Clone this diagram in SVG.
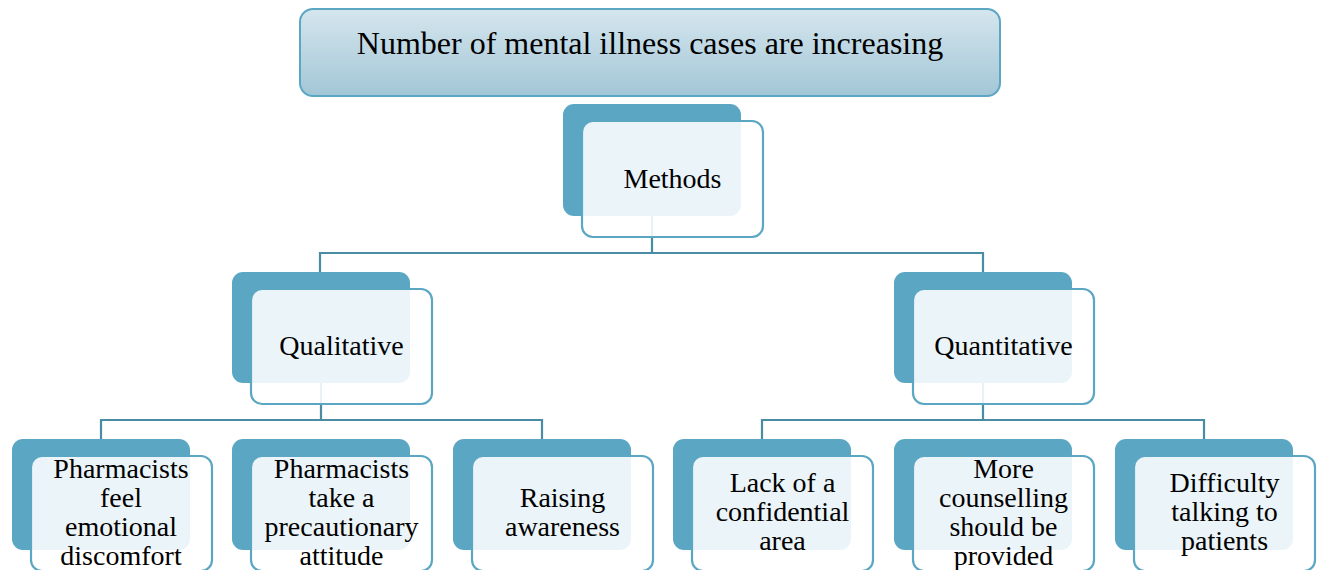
<svg xmlns="http://www.w3.org/2000/svg" width="1320" height="570" viewBox="0 0 1320 570">
<defs>
<linearGradient id="topg" x1="0" y1="0" x2="0" y2="1">
<stop offset="0" stop-color="#d5e6ee"/>
<stop offset="1" stop-color="#a2c6d6"/>
</linearGradient>
</defs>
<style>
.back{fill:#5ba7c3;}
.front{fill:#ffffff;fill-opacity:0.88;stroke:#5ba7c3;stroke-width:2.2;}
.conn{fill:none;stroke:#4a8ca3;stroke-width:2.2;}
.t{font-size:28px;fill:#000000;text-anchor:middle;}
</style>
<rect width="1320" height="570" fill="#ffffff"/>
<g id="connectors">
<path class="conn" d="M652,216 V253 M320,272 V253 H983 V272"/>
<path class="conn" d="M321,383 V420 M101,439 V420 H542 V439"/>
<path class="conn" d="M983,383 V420 M762,439 V420 H1204 V439"/>
</g>
<g font-family="Liberation Serif, Times New Roman, DejaVu Serif, serif">
<g id="top">
<rect x="300" y="9" width="700" height="87" rx="13" fill="url(#topg)" stroke="#5ba7c3" stroke-width="2"/>
<text class="t" x="650" y="54" style="font-size:32px">Number of mental illness cases are increasing</text>
</g>
<g id="methods">
<rect class="back" x="563" y="104" width="178" height="112" rx="11"/>
<rect class="front" x="582" y="121" width="181" height="116" rx="11"/>
<text class="t" x="672.5" y="188">Methods</text>
</g>
<g id="qualitative">
<rect class="back" x="232" y="272" width="178" height="111" rx="11"/>
<rect class="front" x="251" y="289" width="181" height="115" rx="11"/>
<text class="t" x="341.5" y="355">Qualitative</text>
</g>
<g id="quantitative">
<rect class="back" x="894" y="272" width="178" height="111" rx="11"/>
<rect class="front" x="913" y="289" width="181" height="115" rx="11"/>
<text class="t" x="1003.5" y="355">Quantitative</text>
</g>
<g id="leaf1">
<rect class="back" x="12" y="439" width="178" height="111" rx="11"/>
<rect class="front" x="31" y="456" width="181" height="115" rx="11"/>
<text class="t" x="121" y="478">Pharmacists</text>
<text class="t" x="121" y="507">feel</text>
<text class="t" x="121" y="536">emotional</text>
<text class="t" x="121" y="565">discomfort</text>
</g>
<g id="leaf2">
<rect class="back" x="232" y="439" width="178" height="111" rx="11"/>
<rect class="front" x="251" y="456" width="181" height="115" rx="11"/>
<text class="t" x="341.5" y="478">Pharmacists</text>
<text class="t" x="341.5" y="507">take a</text>
<text class="t" x="341.5" y="536">precautionary</text>
<text class="t" x="341.5" y="565">attitude</text>
</g>
<g id="leaf3">
<rect class="back" x="453" y="439" width="178" height="111" rx="11"/>
<rect class="front" x="472" y="456" width="181" height="115" rx="11"/>
<text class="t" x="562.5" y="507">Raising</text>
<text class="t" x="562.5" y="536">awareness</text>
</g>
<g id="leaf4">
<rect class="back" x="673" y="439" width="178" height="111" rx="11"/>
<rect class="front" x="692" y="456" width="181" height="115" rx="11"/>
<text class="t" x="782.5" y="492">Lack of a</text>
<text class="t" x="782.5" y="521">confidential</text>
<text class="t" x="782.5" y="550">area</text>
</g>
<g id="leaf5">
<rect class="back" x="894" y="439" width="178" height="111" rx="11"/>
<rect class="front" x="913" y="456" width="181" height="115" rx="11"/>
<text class="t" x="1003.5" y="478">More</text>
<text class="t" x="1003.5" y="507">counselling</text>
<text class="t" x="1003.5" y="536">should be</text>
<text class="t" x="1003.5" y="565">provided</text>
</g>
<g id="leaf6">
<rect class="back" x="1115" y="439" width="178" height="111" rx="11"/>
<rect class="front" x="1134" y="456" width="181" height="115" rx="11"/>
<text class="t" x="1224.5" y="492">Difficulty</text>
<text class="t" x="1224.5" y="521">talking to</text>
<text class="t" x="1224.5" y="550">patients</text>
</g>
</g>
</svg>
